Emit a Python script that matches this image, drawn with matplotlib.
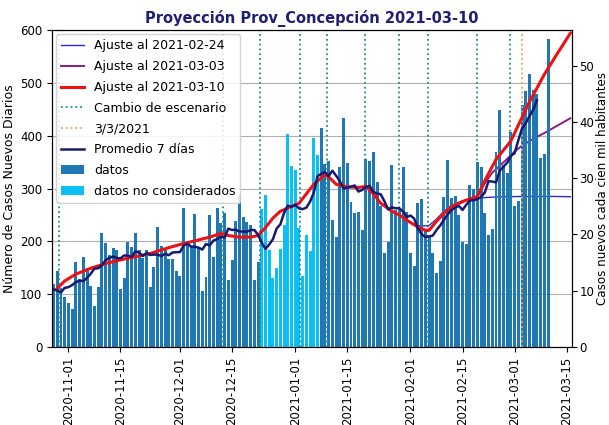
import matplotlib
matplotlib.use("Agg")
import matplotlib.pyplot as plt
import matplotlib.dates as mdates
import numpy as np
import pandas as pd

# ---------------- data ----------------
data_start = "2020-10-25"
casos = [
    98, 95, 101,                                   # Oct 25-27 (hidden, left of view)
    119, 143, 112, 95, 83, 72, 160, 128, 171, 150, 115, 78, 113,
    216, 196, 175, 188, 183, 110, 130, 198, 190, 215, 183, 168, 184, 114, 152, 228,
    191, 188, 166, 166, 144, 134, 263, 195, 190, 252, 190, 106, 133, 250, 170, 263,
    234, 254, 126, 164, 239,
    288, 246, 237, 230, 127, 160,
    262, 288, 183, 130, 150, 185, 230, 404, 343, 335, 226, 135, 212, 181, 395, 363,
    415, 346, 353, 240, 208, 340, 434, 348, 274, 253, 255, 221, 355, 353, 370, 313,
    267, 177, 199, 344, 260, 263, 340, 255, 178, 154, 272, 280, 222, 210, 178, 140, 163,
    283, 354, 282, 285, 249, 198, 195, 307, 300, 351, 341, 253, 212, 223, 370, 448,
    345, 330, 407, 266, 276, 459, 485, 516, 486, 478, 357, 365, 583,
]
no_considerados_inicio = "2020-12-23"
no_considerados_fin = "2021-01-07"

fit_base = "2020-11-01"
rojo_dias = [-3, -1, 2, 6, 10, 14, 18, 22, 26, 30, 34, 38, 41, 43, 46, 49, 51, 53, 55, 57,
             60, 62, 64, 66, 68, 69, 70, 72, 75, 78, 80, 82, 84, 87, 89, 91, 94, 96, 97,
             99, 101, 103, 105, 107, 110, 112, 115, 119, 121, 124, 128, 131, 135]
rojo_vals = [111, 125, 138, 149, 158, 165, 171, 177, 186, 194, 201, 208, 215, 211, 208, 208, 211, 226, 244, 257,
             266, 272, 290, 308, 320, 327, 322, 308, 303, 302, 304, 290, 272, 257, 250, 240, 227, 221, 221,
             238, 253, 265, 272, 278, 285, 315, 355, 390, 420, 464, 516, 550, 594]
azul_dias = [89, 91, 93, 95, 97, 99, 101, 103, 106, 110, 115, 122, 130, 135]
azul_vals = [250, 240, 232, 229, 230, 242, 257, 268, 277, 282, 284, 285, 285, 284.5]
morado_dias = [108, 110, 112, 114, 116, 118, 120, 122, 125, 128, 131, 135]
morado_vals = [280, 285, 310, 330, 343, 356, 370, 381, 394, 405, 417, 433]

cambios = ["2020-10-29 08:00", "2020-12-12 12:00", "2020-12-22 14:00", "2021-01-02 10:00",
           "2021-01-09 10:00", "2021-01-19 17:00", "2021-01-28 22:00", "2021-02-05 19:00",
           "2021-02-18 22:00", "2021-02-27 19:00"]
fecha_ref = "2021-03-03"
poblacion = 1065000

xticks = ["2020-11-01", "2020-11-15", "2020-12-01", "2020-12-15", "2021-01-01",
          "2021-01-15", "2021-02-01", "2021-02-15", "2021-03-01", "2021-03-15"]

# ---------------- build ----------------
fechas = pd.date_range(data_start, periods=len(casos), freq="D")
serie = pd.Series(casos, index=fechas, dtype=float)
promedio = serie.rolling(7, center=True).mean()
mask_nc = (fechas >= pd.Timestamp(no_considerados_inicio)) & (fechas <= pd.Timestamp(no_considerados_fin))

base = pd.Timestamp(fit_base)
to_dates = lambda d: [base + pd.Timedelta(days=x) for x in d]

fig = plt.figure(figsize=(6.09, 4.25), dpi=100)
ax = fig.add_axes([0.0854, 0.1835, 0.8537, 0.7459])

ax.plot(to_dates(azul_dias), azul_vals, color="#2b2bd9", lw=1.0, label="Ajuste al 2021-02-24")
ax.plot(to_dates(morado_dias), morado_vals, color="#8b1a8b", lw=1.4, label="Ajuste al 2021-03-03")
ax.plot(to_dates(rojo_dias), rojo_vals, color="#ee1111", lw=2.2, label="Ajuste al 2021-03-10", zorder=4)
for i, c in enumerate(cambios):
    ax.axvline(pd.Timestamp(c), color="#1a8f8f", ls=":", lw=1.3,
               label="Cambio de escenario" if i == 0 else None, zorder=3)
ax.axvline(pd.Timestamp(fecha_ref), color="#f0a050", ls=":", lw=1.3, label="3/3/2021", zorder=3)
ax.plot(promedio.index, promedio.values, color="#191970", lw=1.8, label="Promedio 7 días", zorder=5)

ax.bar(fechas[~mask_nc], serie[~mask_nc], width=0.8, color="#1f77b4", label="datos", zorder=2)
ax.bar(fechas[mask_nc], serie[mask_nc], width=0.8, color="#0abff5", label="datos no considerados", zorder=2)

ax.set_ylim(0, 600)
ax.set_yticks(range(0, 601, 100))
ax.set_xlim(pd.Timestamp("2020-10-27 14:00"), pd.Timestamp("2021-03-16 10:00"))
ax.set_xticks([pd.Timestamp(t) for t in xticks])
ax.xaxis.set_major_formatter(mdates.DateFormatter("%Y-%m-%d"))
ax.tick_params(labelsize=8.5)
plt.setp(ax.get_xticklabels(), rotation=90)
ax.grid(axis="y", color="#b0b0b0", lw=0.8)
ax.set_axisbelow(True)
ax.set_ylabel("Número de Casos Nuevos Diarios", fontsize=9, labelpad=3)
ax.set_title("Proyección Prov_Concepción 2021-03-10", fontsize=10.5, fontweight="bold",
             color="#1f1f75", pad=5)

ax2 = ax.twinx()
ax2.set_ylim(0, 600 * 1e5 / poblacion)
ax2.set_yticks(range(0, 51, 10))
ax2.tick_params(labelsize=8.5, pad=2)
ax2.set_ylabel("Casos nuevos cada cien mil habitantes", fontsize=8.6, labelpad=1)

ax.legend(loc="upper left", fontsize=9, framealpha=0.85, labelspacing=0.62,
          borderaxespad=0.35, handlelength=1.8)

fig.savefig("out.png", dpi=100)
